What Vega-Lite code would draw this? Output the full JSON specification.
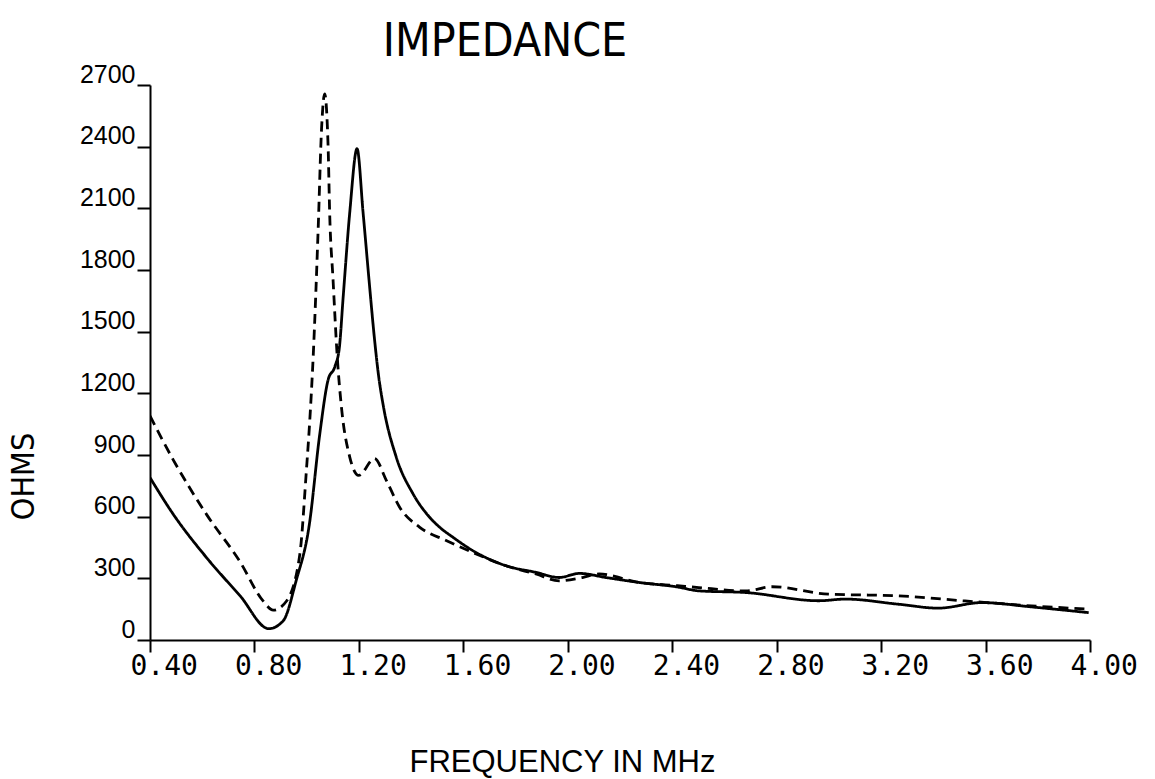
{
  "$schema": "https://vega.github.io/schema/vega-lite/v6.json",
  "width": 940,
  "height": 555,
  "autosize": {"type": "none"},
  "padding": {"left": 150, "top": 85, "right": 65, "bottom": 139},
  "background": "white",
  "config": {"view": {"stroke": null}},
  "title": {
    "text": "IMPEDANCE",
    "font": "DejaVu Sans Condensed, Liberation Sans",
    "fontSize": 46,
    "fontWeight": "normal",
    "color": "black",
    "anchor": "middle",
    "frame": "group",
    "baseline": "alphabetic",
    "dx": -115,
    "dy": 43,
    "offset": 3
  },
  "data": {
    "values": [
      {"f": 0.40, "z": 790, "s": "solid"},
      {"f": 0.49, "z": 610, "s": "solid"},
      {"f": 0.617, "z": 400, "s": "solid"},
      {"f": 0.745, "z": 215, "s": "solid"},
      {"f": 0.855, "z": 55, "s": "solid"},
      {"f": 0.91, "z": 93, "s": "solid"},
      {"f": 0.96, "z": 290, "s": "solid"},
      {"f": 1.01, "z": 560, "s": "solid"},
      {"f": 1.05, "z": 1000, "s": "solid"},
      {"f": 1.082, "z": 1265, "s": "solid"},
      {"f": 1.108, "z": 1330, "s": "solid"},
      {"f": 1.125, "z": 1420, "s": "solid"},
      {"f": 1.14, "z": 1672, "s": "solid"},
      {"f": 1.165, "z": 2080, "s": "solid"},
      {"f": 1.193, "z": 2390, "s": "solid"},
      {"f": 1.216, "z": 2080, "s": "solid"},
      {"f": 1.241, "z": 1721, "s": "solid"},
      {"f": 1.26, "z": 1461, "s": "solid"},
      {"f": 1.276, "z": 1280, "s": "solid"},
      {"f": 1.292, "z": 1150, "s": "solid"},
      {"f": 1.343, "z": 890, "s": "solid"},
      {"f": 1.407, "z": 712, "s": "solid"},
      {"f": 1.471, "z": 597, "s": "solid"},
      {"f": 1.509, "z": 549, "s": "solid"},
      {"f": 1.56, "z": 500, "s": "solid"},
      {"f": 1.636, "z": 435, "s": "solid"},
      {"f": 1.764, "z": 361, "s": "solid"},
      {"f": 1.878, "z": 329, "s": "solid"},
      {"f": 1.967, "z": 304, "s": "solid"},
      {"f": 2.044, "z": 324, "s": "solid"},
      {"f": 2.146, "z": 304, "s": "solid"},
      {"f": 2.273, "z": 280, "s": "solid"},
      {"f": 2.42, "z": 258, "s": "solid"},
      {"f": 2.502, "z": 239, "s": "solid"},
      {"f": 2.681, "z": 231, "s": "solid"},
      {"f": 2.961, "z": 191, "s": "solid"},
      {"f": 3.063, "z": 199, "s": "solid"},
      {"f": 3.267, "z": 174, "s": "solid"},
      {"f": 3.419, "z": 155, "s": "solid"},
      {"f": 3.585, "z": 182, "s": "solid"},
      {"f": 3.776, "z": 161, "s": "solid"},
      {"f": 3.995, "z": 133, "s": "solid"},
      {"f": 0.40, "z": 1090, "s": "dashed"},
      {"f": 0.49, "z": 874, "s": "dashed"},
      {"f": 0.617, "z": 610, "s": "dashed"},
      {"f": 0.745, "z": 380, "s": "dashed"},
      {"f": 0.833, "z": 190, "s": "dashed"},
      {"f": 0.872, "z": 145, "s": "dashed"},
      {"f": 0.923, "z": 190, "s": "dashed"},
      {"f": 0.974, "z": 419, "s": "dashed"},
      {"f": 0.999, "z": 826, "s": "dashed"},
      {"f": 1.012, "z": 1070, "s": "dashed"},
      {"f": 1.025, "z": 1379, "s": "dashed"},
      {"f": 1.044, "z": 1998, "s": "dashed"},
      {"f": 1.057, "z": 2486, "s": "dashed"},
      {"f": 1.069, "z": 2657, "s": "dashed"},
      {"f": 1.082, "z": 2405, "s": "dashed"},
      {"f": 1.088, "z": 2081, "s": "dashed"},
      {"f": 1.101, "z": 1754, "s": "dashed"},
      {"f": 1.117, "z": 1380, "s": "dashed"},
      {"f": 1.133, "z": 1135, "s": "dashed"},
      {"f": 1.165, "z": 890, "s": "dashed"},
      {"f": 1.199, "z": 801, "s": "dashed"},
      {"f": 1.26, "z": 883, "s": "dashed"},
      {"f": 1.305, "z": 777, "s": "dashed"},
      {"f": 1.356, "z": 646, "s": "dashed"},
      {"f": 1.432, "z": 549, "s": "dashed"},
      {"f": 1.534, "z": 484, "s": "dashed"},
      {"f": 1.636, "z": 426, "s": "dashed"},
      {"f": 1.764, "z": 361, "s": "dashed"},
      {"f": 1.878, "z": 321, "s": "dashed"},
      {"f": 1.967, "z": 288, "s": "dashed"},
      {"f": 2.056, "z": 304, "s": "dashed"},
      {"f": 2.12, "z": 321, "s": "dashed"},
      {"f": 2.273, "z": 280, "s": "dashed"},
      {"f": 2.42, "z": 264, "s": "dashed"},
      {"f": 2.502, "z": 255, "s": "dashed"},
      {"f": 2.681, "z": 239, "s": "dashed"},
      {"f": 2.783, "z": 259, "s": "dashed"},
      {"f": 2.999, "z": 223, "s": "dashed"},
      {"f": 3.267, "z": 215, "s": "dashed"},
      {"f": 3.521, "z": 190, "s": "dashed"},
      {"f": 3.776, "z": 166, "s": "dashed"},
      {"f": 3.995, "z": 150, "s": "dashed"}
    ]
  },
  "mark": {"type": "line", "color": "black", "strokeWidth": 2.8, "interpolate": "monotone", "clip": true},
  "encoding": {
    "x": {
      "field": "f",
      "type": "quantitative",
      "scale": {"domain": [0.4, 4.0], "nice": false, "zero": false},
      "axis": {
        "values": [0.4, 0.8, 1.2, 1.6, 2.0, 2.4, 2.8, 3.2, 3.6, 4.0],
        "format": ".2f",
        "grid": false,
        "domainColor": "black",
        "domainWidth": 2,
        "tickColor": "black",
        "tickWidth": 2,
        "tickSize": 12,
        "labelFont": "DejaVu Sans Mono",
        "labelFontSize": 28,
        "labelColor": "black",
        "labelAlign": "left",
        "labelBaseline": "top",
        "labelOffset": -20,
        "labelPadding": 0,
        "labelOverlap": false,
        "labelFlush": false,
        "labelBound": false,
        "title": "FREQUENCY IN MHz",
        "titleFont": "Liberation Sans",
        "titleFontSize": 31,
        "titleFontWeight": "normal",
        "titleColor": "black",
        "titleAlign": "center",
        "titleBaseline": "middle",
        "titleX": 412,
        "titleY": 122
      }
    },
    "y": {
      "field": "z",
      "type": "quantitative",
      "scale": {"domain": [0, 2700], "nice": false},
      "axis": {
        "values": [0, 300, 600, 900, 1200, 1500, 1800, 2100, 2400, 2700],
        "format": "d",
        "grid": false,
        "domainColor": "black",
        "domainWidth": 2,
        "tickColor": "black",
        "tickWidth": 2,
        "tickSize": 13,
        "labelFont": "Liberation Sans",
        "labelFontSize": 25,
        "labelColor": "black",
        "labelBaseline": "alphabetic",
        "labelOffset": -3,
        "labelPadding": 2,
        "labelOverlap": false,
        "labelFlush": false,
        "title": "OHMS",
        "titleFont": "DejaVu Sans Condensed, Liberation Sans",
        "titleFontSize": 32,
        "titleFontWeight": "normal",
        "titleColor": "black",
        "titleAngle": -90,
        "titleAlign": "center",
        "titleBaseline": "middle",
        "titleX": -127,
        "titleY": 391
      }
    },
    "strokeDash": {
      "field": "s",
      "type": "nominal",
      "scale": {"domain": ["solid", "dashed"], "range": [[1, 0], [10, 6]]},
      "legend": null
    }
  }
}
